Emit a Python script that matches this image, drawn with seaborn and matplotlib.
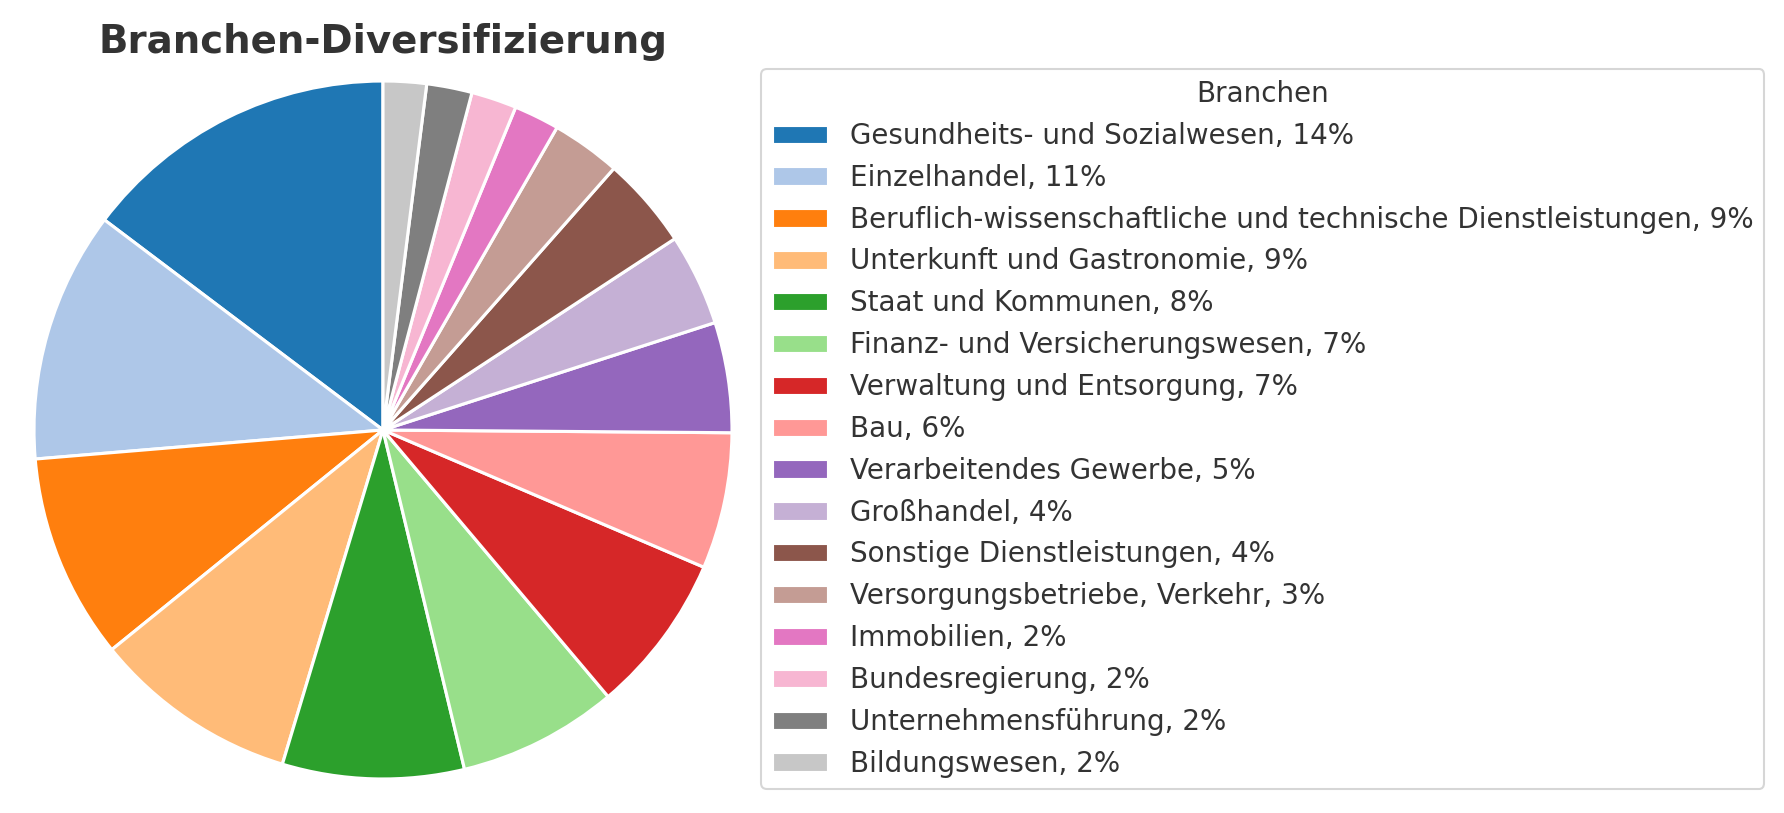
import matplotlib
matplotlib.use('Agg')
import matplotlib.pyplot as plt
import seaborn as sns

# Branchen und Anteile
branchen = ['Gesundheits- und Sozialwesen', 'Einzelhandel',
            'Beruflich-wissenschaftliche und technische Dienstleistungen',
            'Unterkunft und Gastronomie', 'Staat und Kommunen',
            'Finanz- und Versicherungswesen', 'Verwaltung und Entsorgung',
            'Bau', 'Verarbeitendes Gewerbe', 'Großhandel',
            'Sonstige Dienstleistungen', 'Versorgungsbetriebe, Verkehr',
            'Immobilien', 'Bundesregierung', 'Unternehmensführung',
            'Bildungswesen']
anteile = [14.7, 11.6, 9.5, 9.5, 8.4, 7.4, 7.4, 6.3, 5.1, 4.25, 4.25,
           3.2, 2.1, 2.1, 2.1, 2.0]

sns.set_theme(style='whitegrid')
plt.rcParams['font.family'] = ['DejaVu Sans']

W, H, DPI = 1784, 813, 150
fig = plt.figure(figsize=(W / DPI, H / DPI), dpi=DPI)

# Achse für den Kuchen (Pixelwerte)
cx, cy, r = 383, 430, 349
lim = 1.01
half = r * lim
ax = fig.add_axes([(cx - half) / W, (H - cy - half) / H, 2 * half / W, 2 * half / H])

farben = sns.color_palette('tab20', len(anteile))
wedges, _ = ax.pie(anteile, colors=farben, startangle=90, counterclock=True,
                   wedgeprops=dict(edgecolor='white', linewidth=1.5))
ax.set_xlim(-lim, lim)
ax.set_ylim(-lim, lim)
ax.set_aspect('equal')

fig.text(cx / W, (H - 53) / H, 'Branchen-Diversifizierung', ha='center',
         va='baseline', fontsize=18.6, weight='bold', color='.2')

labels = [f'{b}, {int(a)}%' for b, a in zip(branchen, anteile)]
leg = fig.legend(wedges, labels, title='Branchen', loc='upper left',
                 bbox_to_anchor=(761 / W, (H - 69) / H), borderaxespad=0,
                 fontsize=13.3, title_fontsize=13.3, labelspacing=0.5,
                 frameon=True)
for t in leg.get_texts():
    t.set_color('.2')
leg.get_title().set_color('.2')

fig.savefig('out.png', dpi=DPI)
